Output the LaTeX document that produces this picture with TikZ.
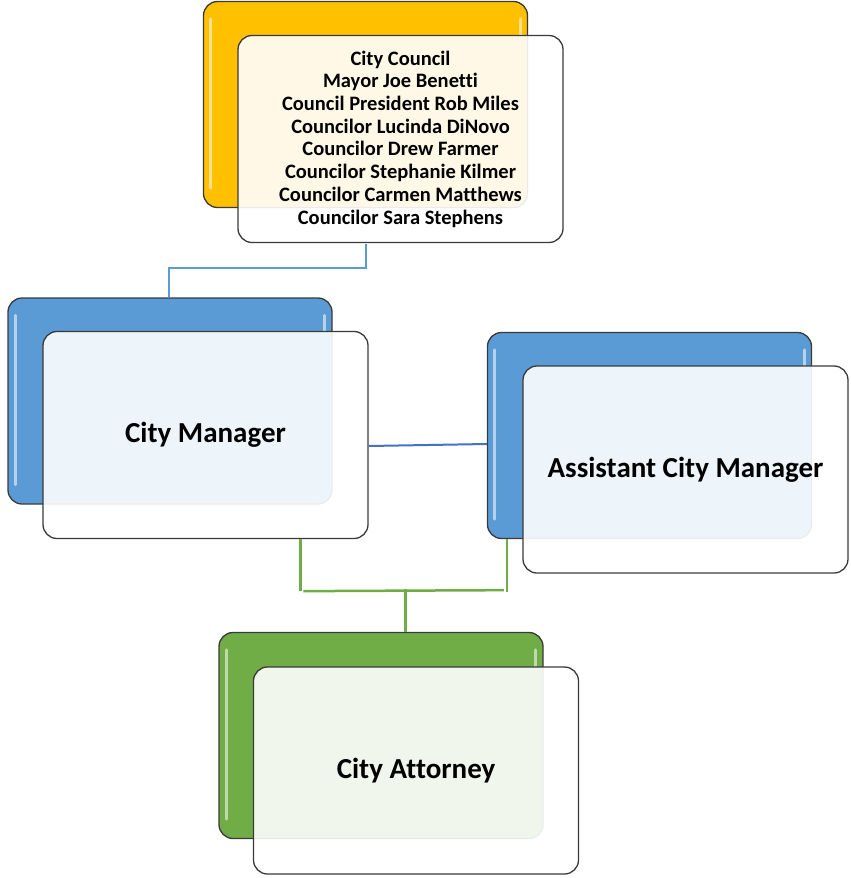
\documentclass[tikz,border=0pt]{standalone}
\usepackage{fontspec}
\setmainfont[Ligatures=NoCommon]{Carlito}
\usetikzlibrary{calc}
\definecolor{cyellow}{HTML}{FFC000}
\definecolor{cblue}{HTML}{5B9BD5}
\definecolor{cgreen}{HTML}{70AD47}
\definecolor{cdblue}{HTML}{4472C4}
\definecolor{edge}{HTML}{3A3A3A}
\tikzset{
  backbox/.style={draw=edge, line width=1.3pt, rounded corners=14pt, minimum width=324pt, minimum height=206pt, inner sep=0pt},
  frontbox/.style={draw=edge, line width=1.3pt, rounded corners=14pt, fill=white, fill opacity=0.9, text opacity=1, minimum width=325pt, minimum height=207pt, inner sep=0pt, align=center, font=\bfseries},
  gloss/.style={white, line width=3pt, line cap=round, opacity=0.55},
  conn/.style={line width=2pt}
}
\begin{document}
\begin{tikzpicture}[x=1pt,y=-1pt]
\useasboundingbox (0,0) rectangle (851,878);
% back boxes
\node[backbox, fill=cyellow] (cb) at (365.5,104.5) {};
\node[backbox, fill=cblue] (cmb) at (170,401) {};
\node[backbox, fill=cblue] (amb) at (649.5,435.5) {};
\node[backbox, fill=cgreen] (cab) at (381,735.5) {};
% gloss highlights
\foreach \n in {cb,cmb,amb,cab}{
  \draw[gloss] ($(\n.north west)+(8,18)$) -- ($(\n.south west)+(8,-20)$);
  \draw[gloss] ($(\n.north east)+(-8,18)$) -- ($(\n.north east)+(-8,34)$);
}
% connectors
\draw[conn, cblue] ($(cb.south west)+(163,36)$) coordinate (cfb) |- ($(cmb.north west)+(162,-29)$) -- ($(cmb.north west)+(162,0)$);
% front boxes
\node[frontbox, font=\bfseries\fontsize{20.5}{22.7}\selectfont] (cf) at (400.5,139) {City Council\\Mayor Joe Benetti\\Council President Rob Miles\\Councilor Lucinda DiNovo\\Councilor Drew Farmer\\Councilor Stephanie Kilmer\\Councilor Carmen Matthews\\Councilor Sara Stephens};
\node[frontbox, font=\bfseries\fontsize{29}{32}\selectfont] (cmf) at (205.5,435) {City Manager};
\node[frontbox, font=\bfseries\fontsize{29}{32}\selectfont] (amf) at (685.5,469.5) {Assistant City Manager};
\node[frontbox, font=\bfseries\fontsize{29}{32}\selectfont] (caf) at (416,770.5) {City Attorney};
% manager to assistant
\draw[conn, cdblue] ($(cmf.east)+(0,11)$) -- ($(amb.west)+(0,8.5)$);
% green connectors
\coordinate (gl) at ($(cmf.south west)+(258,0)$);
\coordinate (gr) at ($(amb.south west)+(20,0)$);
\draw[conn, cgreen, line width=2.5pt] (gl) -- ++(0,52);
\draw[conn, cgreen, line width=2.5pt] (gr) -- ++(0,53);
\draw[conn, cgreen, line width=2.5pt] ($(gl)+(3,52)$) -- ($(gr)+(-3,51)$);
\draw[conn, cgreen, line width=2.5pt] ($(cab.north west)+(187,-43)$) -- ($(cab.north west)+(187,0)$);
\end{tikzpicture}
\end{document}
